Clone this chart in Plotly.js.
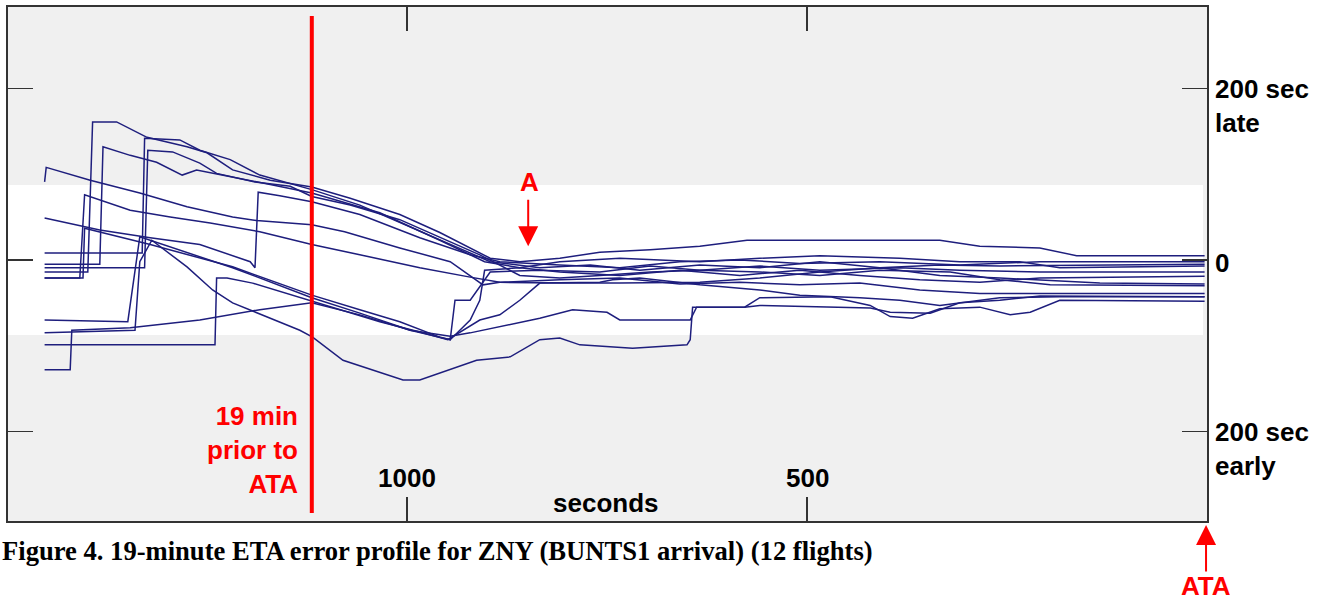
<!DOCTYPE html>
<html>
<head>
<meta charset="utf-8">
<script src="https://cdn.plot.ly/plotly-3.0.1.min.js"></script>
<style>html,body{margin:0;padding:0;background:#fff;}#chart{width:1329px;height:601px;}</style>
</head>
<body>
<div id="chart"></div>
<script>
// seconds prior to ATA (x) and ETA error in seconds, positive = late (y)
const t1 = [1453,1399,1393,1363,1325,1275,1250,1218,1171,1119,1071,1009,959,921,896,859,809,759,696,634,575,438,334,284,209,163,3];
const e1 = [-14,-14,161,161,143,132,125,105,93,85,72,53,32,14,2,-2,2,9,12,16,23,23,23,16,14,5,5];
const t2 = [1453,1384,1380,1346,1313,1281,1263,1218,1171,1119,1034,959,903,859,809,734,634,559,484,384,309,234,184,3];
const e2 = [-5,-5,132,122,114,99,105,97,88,78,55,23,-2,-9,-2,2,-2,2,5,2,-2,-2,-9,-7];
const t3 = [1453,1331,1328,1284,1259,1221,1184,1119,1059,1009,946,896,834,771,709,634,559,484,409,334,259,134,3];
const e3 = [8,8,142,140,128,117,99,82,64,44,18,-2,-9,-6,-12,-6,-9,-2,-9,-18,-21,-27,-28];
const t4 = [1453,1328,1324,1293,1259,1238,1190,1146,1119,1071,1009,946,909,859,809,759,696,634,559,484,409,321,259,196,3];
const e4 = [-9,-9,128,126,113,101,91,86,74,64,47,21,6,-18,-21,-18,-14,-12,-14,-18,-12,-14,-23,-29,-30];
const t5 = [1453,1451,1396,1334,1275,1218,1188,1134,1119,1078,1009,946,905,884,809,734,659,584,509,434,359,284,3];
const e5 = [91,108,93,78,62,50,46,42,41,33,14,-2,-29,-26,-23,-21,-28,-26,-29,-27,-35,-39,-39];
const t6 = [1453,1384,1321,1259,1196,1190,1186,1159,1119,1059,984,921,884,809,734,659,584,509,409,309,209,34,3];
const e6 = [49,35,26,18,-2,-9,79,75,68,53,26,6,-2,-6,-9,-2,0,-4,-2,-6,-2,-2,-2];
const t7 = [1453,1409,1403,1384,1346,1296,1246,1184,1119,1059,984,921,884,809,734,634,559,484,409,334,259,3];
const e7 = [-21,-21,76,70,58,50,43,33,18,6,-9,-20,-26,-27,-27,-26,-21,-14,-9,-6,-7,-5];
const t8 = [1453,1405,1403,1321,1218,1119,1059,1009,959,946,940,921,896,834,759,696,634,559,484,384,309,209,3];
const e8 = [-21,-21,37,18,-8,-41,-58,-72,-90,-93,-47,-47,-14,-12,-14,-7,-12,-7,-12,-9,-12,-14,-14];
const t9 = [1453,1349,1334,1218,1119,1059,996,946,921,909,903,859,809,734,659,584,509,434,359,284,209,3];
const e9 = [-70,-72,27,-9,-44,-62,-82,-93,-70,-47,-12,-9,-14,-18,-12,-18,-12,-18,-23,-26,-21,-19];
const t10 = [1453,1340,1334,1319,1275,1243,1218,1134,1118,1080,1005,984,913,871,834,809,784,718,650,646,643,578,559,509,471,421,396,368,334,284,246,221,184,3];
const e10 = [-85,-82,-2,23,-8,-35,-50,-82,-90,-117,-140,-140,-117,-113,-93,-91,-99,-103,-99,-93,-55,-55,-44,-43,-43,-53,-66,-68,-57,-55,-64,-61,-47,-48];
const t11 = [1453,1240,1238,1225,1193,1121,1093,1034,984,949,909,884,859,834,759,743,709,634,559,509,434,384,334,259,184,3];
const e11 = [-99,-99,-21,-21,-27,-47,-55,-72,-84,-93,-70,-64,-47,-27,-26,-23,-21,-29,-35,-41,-44,-47,-53,-44,-43,-43];
const t12 = [1453,1421,1419,1346,1259,1184,1119,1059,996,946,921,884,834,793,750,734,646,638,578,559,421,396,346,309,259,209,3];
const e12 = [-128,-128,-82,-79,-70,-58,-50,-64,-82,-89,-85,-78,-68,-58,-61,-70,-70,-55,-55,-53,-56,-61,-62,-50,-47,-42,-43];

const xTicks = [1000, 500];
const xTickText = ['1000', '500'];
const yTicks = [200, 0, -200];
const markerTime = 1119;      // "19 min prior to ATA" marker as drawn
const bandHalf = 87.5;        // white band +/- seconds

const times = [t1,t2,t3,t4,t5,t6,t7,t8,t9,t10,t11,t12];
const errs = [e1,e2,e3,e4,e5,e6,e7,e8,e9,e10,e11,e12];

const traces = times.map((t, i) => ({
  x: t, y: errs[i], type: 'scatter', mode: 'lines',
  line: {color: 'rgb(30,30,125)', width: 1.5}, hoverinfo: 'skip', showlegend: false
}));

const sansB = {family: 'Liberation Sans, Arial, sans-serif', size: 26, color: '#000'};
const redB = {family: 'Liberation Sans, Arial, sans-serif', size: 26, color: '#ff0000'};

const layout = {
  width: 1329, height: 601,
  margin: {l: 8, r: 122, t: 7, b: 80, pad: 0},
  paper_bgcolor: '#ffffff', plot_bgcolor: '#f0f0f0',
  showlegend: false,
  xaxis: {range: [1498.75, 0], showgrid: false, zeroline: false, showticklabels: false,
    tickvals: xTicks, ticks: 'inside', ticklen: 24, tickwidth: 1.8, tickcolor: '#333',
    showline: true, linecolor: '#333', linewidth: 2, mirror: 'ticks'},
  yaxis: {range: [-304.4, 295], showgrid: false, zeroline: false, showticklabels: false,
    tickvals: yTicks, ticks: 'inside', ticklen: 25, tickwidth: 1.8, tickcolor: '#333',
    showline: true, linecolor: '#333', linewidth: 2, mirror: 'ticks'},
  shapes: [
    {type: 'rect', layer: 'below', xref: 'x', yref: 'y', x0: 1498.75, x1: 5, y0: -bandHalf, y1: bandHalf,
     fillcolor: '#ffffff', line: {width: 0}},
    {type: 'line', layer: 'above', xref: 'x', yref: 'y', x0: markerTime, x1: markerTime, y0: 284.5, y1: -295,
     line: {color: '#ff0000', width: 4}}
  ],
  annotations: [
    {xref: 'x', yref: 'y', x: 1134, y: -221.6, xanchor: 'right', yanchor: 'middle', align: 'right',
     text: '<b>19 min<br>prior to<br>ATA</b>', showarrow: false, font: redB},
    {xref: 'x', yref: 'y', x: xTicks[0], y: -254, xanchor: 'center', yanchor: 'middle',
     text: '<b>' + xTickText[0] + '</b>', showarrow: false, font: sansB},
    {xref: 'x', yref: 'y', x: xTicks[1], y: -254, xanchor: 'center', yanchor: 'middle',
     text: '<b>' + xTickText[1] + '</b>', showarrow: false, font: sansB},
    {xref: 'x', yref: 'y', x: 751, y: -283.5, xanchor: 'center', yanchor: 'middle',
     text: '<b>seconds</b>', showarrow: false, font: sansB},
    {xref: 'paper', yref: 'y', x: 1.005, y: 179.5, xanchor: 'left', yanchor: 'middle', align: 'left',
     text: '<b>200 sec<br>late</b>', showarrow: false, font: sansB},
    {xref: 'paper', yref: 'y', x: 1.005, y: -3.5, xanchor: 'left', yanchor: 'middle',
     text: '<b>0</b>', showarrow: false, font: sansB},
    {xref: 'paper', yref: 'y', x: 1.005, y: -220, xanchor: 'left', yanchor: 'middle', align: 'left',
     text: '<b>200 sec<br>early</b>', showarrow: false, font: sansB},
    {xref: 'x', yref: 'y', x: 847.5, y: 91, xanchor: 'center', yanchor: 'middle',
     text: '<b>A</b>', showarrow: false, font: redB},
    {xref: 'x', yref: 'y', x: 848.5, y: 16, text: '', showarrow: true, ax: 0, ay: -48,
     arrowcolor: '#ff0000', arrowwidth: 2, arrowhead: 2, arrowsize: 2},
    {xref: 'paper', yref: 'paper', x: 0.9992, y: -0.008, text: '', showarrow: true, ax: 0, ay: 48,
     arrowcolor: '#ff0000', arrowwidth: 2, arrowhead: 2, arrowsize: 2},
    {xref: 'paper', yref: 'paper', x: 0.9992, y: -0.126, xanchor: 'center', yanchor: 'middle',
     text: '<b>ATA</b>', showarrow: false, font: redB},
    {xref: 'paper', yref: 'paper', x: -0.0067, y: -0.058, xanchor: 'left', yanchor: 'middle',
     text: '<b>Figure 4. 19-minute ETA error profile for ZNY (BUNTS1 arrival) (12 flights)</b>',
     showarrow: false, font: {family: 'Liberation Serif, Times New Roman, serif', size: 26.6, color: '#000'}}
  ]
};

Plotly.newPlot('chart', traces, layout, {staticPlot: true, displayModeBar: false});
</script>
</body>
</html>
